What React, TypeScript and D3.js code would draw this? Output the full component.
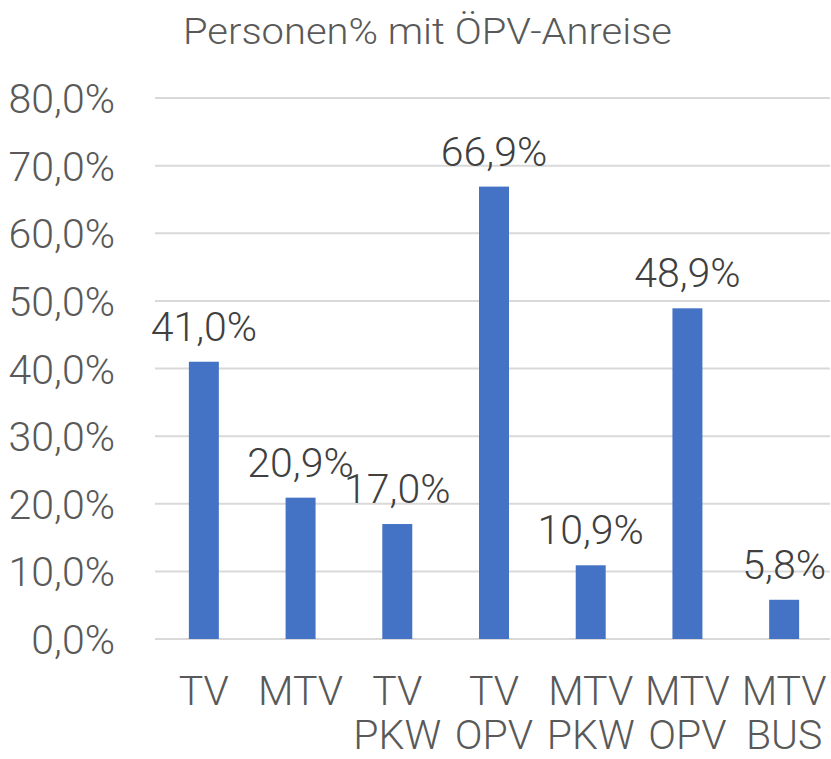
import React from "react";
import * as d3 from "d3";

const categories: string[][] = [
  ["TV"],
  ["MTV"],
  ["TV", "PKW"],
  ["TV", "OPV"],
  ["MTV", "PKW"],
  ["MTV", "OPV"],
  ["MTV", "BUS"],
];
const values: number[] = [41.0, 20.9, 17.0, 66.9, 10.9, 48.9, 5.8];
const yTicks: number[] = [0, 10, 20, 30, 40, 50, 60, 70, 80];
const title = "Personen% mit ÖPV-Anreise";

const W = 831;
const H = 759;
const FONT = "Roboto, 'Liberation Sans', sans-serif";

const fmt = (v: number) => v.toFixed(1).replace(".", ",") + "%";

export default function App() {
  const x = d3
    .scaleBand<number>()
    .domain(categories.map((_, i) => i))
    .range([155.5, 832.5])
    .paddingInner(0.69)
    .paddingOuter(0.345);
  const y = d3.scaleLinear().domain([0, 80]).range([639, 98]);

  return (
    <svg
      width={W}
      height={H}
      style={{ position: "absolute", left: 0, top: 0, background: "#fff" }}
      fontFamily={FONT}
      fontWeight={300}
    >
      <text
        x={427.5}
        y={44}
        textAnchor="middle"
        fontSize={37}
        fill="#595959"
        textLength={489}
        lengthAdjust="spacingAndGlyphs"
      >
        {title}
      </text>
      {yTicks.map((t) => (
        <g key={t}>
          <line x1={155} x2={830} y1={y(t)} y2={y(t)} stroke="#D9D9D9" strokeWidth={2} />
          <text x={115} y={y(t) + 15} textAnchor="end" fontSize={41} fill="#595959">
            {fmt(t)}
          </text>
        </g>
      ))}
      {values.map((v, i) => (
        <g key={i}>
          <rect
            x={x(i)}
            y={y(v)}
            width={x.bandwidth()}
            height={y(0) - y(v)}
            fill="#4472C4"
          />
          <text
            x={(x(i) as number) + x.bandwidth() / 2}
            y={y(v) - 21}
            textAnchor="middle"
            fontSize={41}
            fill="#404040"
          >
            {fmt(v)}
          </text>
          {categories[i].map((line, j) => (
            <text
              key={j}
              x={(x(i) as number) + x.bandwidth() / 2}
              y={705 + j * 44}
              textAnchor="middle"
              fontSize={41}
              fill="#595959"
            >
              {line}
            </text>
          ))}
        </g>
      ))}
    </svg>
  );
}
